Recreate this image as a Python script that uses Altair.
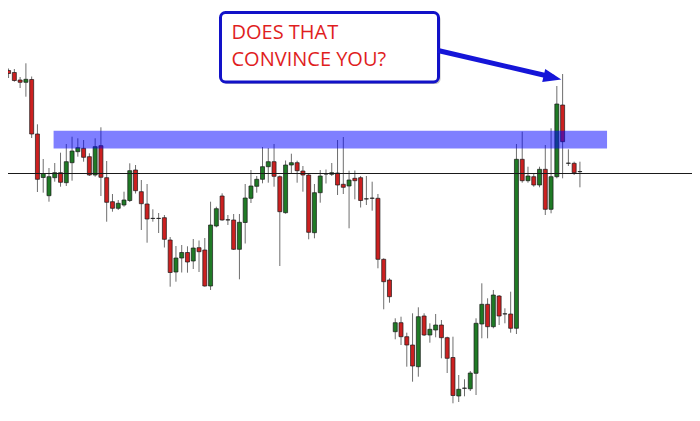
import altair as alt
import pandas as pd

# Price levels (arbitrary price units, higher = up)
opens = [350.5, 348.5, 341, 338.7, 341.5, 287, 243.5, 225.3, 243.3, 248.3,
         238.3, 258.3, 269.3, 272.7, 264.3, 246, 275.3, 243.3, 219.3, 212.7,
         216, 220.5, 251, 229.3, 217, 202.7, 202.7, 203.3, 181, 149,
         163, 168.5, 160, 173.3, 171, 135, 195, 225, 201.2, 201,
         171.7, 198.5, 222.7, 234.7, 241.7, 254.3, 259.3, 244.3, 208.3, 256,
         258.3, 250, 246, 188.3, 228.3, 247.2, 246.7, 248, 236.7, 235,
         242.7, 243.3, 222.2, 222.9, 222.7, 161.7, 141, 89.3, 98.3, 84.3,
         76, 54.3, 105, 86, 91, 96, 83.3, 63.5, 25, 32.9,
         32.2, 47.7, 97, 116.7, 94.3, 125, 107.2, 107, 92.7, 261.7,
         240.3, 244.3, 236, 251.7, 211.7, 244.3, 316, 257.9, 257.7, 249.5]
highs = [352.5, 352, 344, 357.7, 344.5, 296.7, 262, 253, 258, 268.3,
         277, 284.3, 282.7, 281, 267.7, 282.7, 293.7, 260, 227, 221,
         229.3, 257.7, 256, 241, 237, 211.7, 208, 206, 184, 175,
         176, 174.7, 182, 180.5, 183, 219.3, 214.3, 227.7, 206, 207,
         207, 237, 251, 245, 274, 273, 277, 245.5, 260.5, 267.3,
         260.3, 255, 247.7, 237, 251, 251.5, 258, 281, 284, 250.3,
         250.5, 245, 245, 239.3, 227, 162.7, 142.7, 102.7, 104.3, 88.3,
         107.7, 113.7, 107.7, 97.7, 107, 101, 84.3, 84.3, 46, 41.7,
         50, 102.7, 137.7, 122.7, 131, 126, 112.7, 129.3, 277, 289.3,
         254.3, 247.7, 254.3, 276, 292.7, 335, 347, 271.7, 259.3, 259.3]
lows = [343, 339.3, 333, 324.3, 283, 229, 228.3, 219.3, 239.3, 234.3,
        235, 240.3, 264.3, 259.3, 245, 244.3, 225, 199.3, 209.3, 211,
        214.3, 219, 227.5, 191, 178.3, 199.3, 188, 173.5, 134.3, 139.3,
        148.5, 148.3, 152, 149, 134.3, 131, 193.7, 200.3, 196, 171,
        141.7, 177.5, 218, 228.3, 237.7, 238.3, 234.3, 155, 207.3, 247,
        238.3, 229.3, 181.7, 182.7, 218.3, 237.5, 245, 226, 227, 192.7,
        221.7, 213.5, 216, 210.3, 152.7, 111.7, 118.3, 81.7, 76, 54.3,
        39.3, 44.3, 85, 78.3, 83.7, 62.7, 48, 17.7, 19, 24.7,
        30, 26, 82.7, 82.7, 92.7, 96, 97.7, 88.3, 87, 238.3,
        238.3, 234.3, 233.7, 206, 207.7, 242.7, 242.7, 255, 246, 233.7]
closes = [347.5, 340.5, 338.7, 341.7, 287, 241.7, 247.5, 244.3, 248.3, 238.7,
          259.3, 270, 273.3, 263.7, 246, 274.3, 243.7, 218.7, 212.7, 217.7,
          221, 250.3, 230.3, 217.3, 202, 202.5, 202.5, 181.7, 148.5, 163,
          168.5, 159, 173, 169.3, 135, 196, 212.3, 201, 201, 171.7,
          198.7, 223, 235, 241.7, 254.3, 259.3, 244.7, 209.3, 256, 258.3,
          250.3, 246, 188.7, 228.3, 245, 247, 248.3, 236, 233.7, 241,
          240.3, 220.5, 222, 222.7, 161.7, 139.3, 124.3, 98.3, 84.3, 76,
          55, 104.3, 86, 91.7, 96, 83.3, 62.7, 25.5, 31.7, 32.7,
          48, 97.7, 116.7, 94.3, 126, 105, 107, 92.7, 261.7, 240.3,
          245, 236, 251.7, 211.7, 244.3, 317, 279.3, 257.7, 248.3, 249.3]

level = [247.5]               # horizontal support/resistance line
zone_start = [7.8]            # resistance zone (candle index span)
zone_end = [103.7]
zone_low = [272.5]
zone_high = [290.3]
callout_lines = ["DOES THAT", "CONVINCE YOU?"]

rows = []
for i, (o, h, l, c) in enumerate(zip(opens, highs, lows, closes)):
    if abs(o - c) < 0.5:
        kind = "doji"
    elif c > o:
        kind = "up"
    else:
        kind = "down"
    rows.append({"i": i, "open": o, "high": h, "low": l, "close": c, "kind": kind})
df = pd.DataFrame(rows)

xs = alt.Scale(domain=[-0.1, 118.42], nice=False, zero=False, padding=0)
ys = alt.Scale(domain=[8, 413], nice=False, zero=False, padding=0)

base = alt.Chart(df)
wicks = base.mark_rule(color="#6e6e6e", strokeWidth=1).encode(
    x=alt.X("i:Q", scale=xs, axis=None),
    y=alt.Y("low:Q", scale=ys, axis=None),
    y2="high:Q",
)
bodies = base.mark_bar(size=4, stroke="#1a1a1a", strokeWidth=0.7).encode(
    x=alt.X("i:Q", scale=xs, axis=None),
    y=alt.Y("open:Q", scale=ys, axis=None),
    y2="close:Q",
    color=alt.Color("kind:N", legend=None,
                    scale=alt.Scale(domain=["up", "down", "doji"],
                                    range=["#1f7a25", "#cc2020", "#222222"])),
)

hline = alt.Chart(pd.DataFrame({"level": level})).mark_rule(
    color="#1a1a1a", strokeWidth=1).encode(
    y=alt.Y("level:Q", scale=ys, axis=None),
    x=alt.value(-8), x2=alt.value(692))

zone = alt.Chart(pd.DataFrame({"s": zone_start, "e": zone_end,
                               "lo": zone_low, "hi": zone_high})).mark_rect(
    color="#0000ff", opacity=0.5).encode(
    x=alt.X("s:Q", scale=xs, axis=None), x2="e:Q",
    y=alt.Y("lo:Q", scale=ys, axis=None), y2="hi:Q")

one = alt.Chart(pd.DataFrame({"a": [0]}))
shadow = one.mark_rect(cornerRadius=5, color="#9a9a9a", opacity=0.6).encode(
    x=alt.value(214.5), x2=alt.value(432.5), y=alt.value(6.5), y2=alt.value(76))
box = one.mark_rect(cornerRadius=5, fill="white", stroke="#1212c8",
                    strokeWidth=3).encode(
    x=alt.value(212.5), x2=alt.value(430.5), y=alt.value(4.5), y2=alt.value(74))
t1 = one.mark_text(text=callout_lines[0], font="Open Sans", fontSize=20,
                   color="#e01e1e", align="left", baseline="alphabetic").encode(
    x=alt.value(223.5), y=alt.value(30.5))
t2 = one.mark_text(text=callout_lines[1], font="Open Sans", fontSize=20,
                   color="#e01e1e", align="left", baseline="alphabetic").encode(
    x=alt.value(223.5), y=alt.value(58))
shaft = one.mark_rule(color="#1515d8", strokeWidth=5, strokeCap="butt").encode(
    x=alt.value(430), y=alt.value(42.5), x2=alt.value(546), y2=alt.value(69.5))
head = one.mark_point(shape="M 1 0 L -1 -0.75 L -1 0.75 Z", size=324, angle=13,
                      filled=True, color="#1515d8", opacity=1).encode(
    x=alt.value(544.5), y=alt.value(69.5))

chart = alt.layer(wicks, bodies, hline, zone, shadow, box, t1, t2, shaft, head).properties(
    width=684, height=405, padding=0,
    autosize=alt.AutoSizeParams(type="none"),
    background="white",
).configure_view(stroke=None, clip=False)

chart.save("out.html", embed_options={"renderer": "svg", "actions": False})
